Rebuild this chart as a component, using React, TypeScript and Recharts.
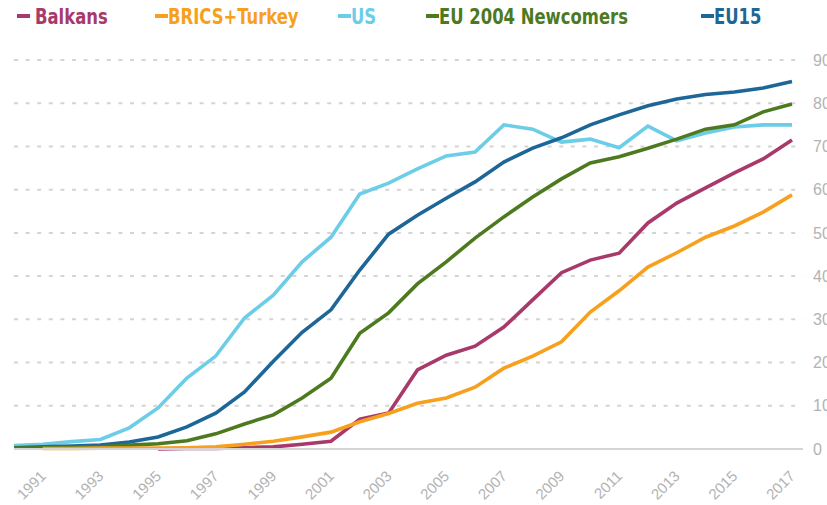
import React from "react";
import { LineChart, Line, XAxis, YAxis, CartesianGrid } from "recharts";

const years = [
  1990, 1991, 1992, 1993, 1994, 1995, 1996, 1997, 1998, 1999, 2000, 2001, 2002, 2003,
  2004, 2005, 2006, 2007, 2008, 2009, 2010, 2011, 2012, 2013, 2014, 2015, 2016, 2017,
];

const balkans = [
  null, null, null, null, null, 0, 0.1, 0.1, 0.3, 0.5, 1.1, 1.8, 6.9, 8.3,
  18.3, 21.7, 23.8, 28.2, 34.5, 40.8, 43.7, 45.3, 52.3, 56.9, 60.4, 63.9, 67.1, 71.5,
];
const brics = [
  null, 0.1, 0.1, 0.2, 0.2, 0.2, 0.3, 0.5, 1.1, 1.8, 2.8, 3.9, 6.3, 8.2,
  10.6, 11.8, 14.3, 18.7, 21.5, 24.8, 31.7, 36.6, 42.1, 45.4, 49.0, 51.6, 54.8, 58.8,
];
const us = [
  0.8, 1.1, 1.7, 2.2, 4.9, 9.5, 16.4, 21.5, 30.3, 35.6, 43.3, 49.0, 59.0, 61.5,
  64.8, 67.8, 68.7, 75.0, 74.0, 71.0, 71.7, 69.7, 74.7, 71.3, 73.1, 74.5, 75.0, 75.0,
];
const eu2004 = [
  0.2, 0.3, 0.4, 0.5, 0.9, 1.2, 1.9, 3.5, 5.8, 7.9, 11.8, 16.4, 26.8, 31.5,
  38.2, 43.3, 48.8, 53.7, 58.3, 62.5, 66.2, 67.6, 69.6, 71.7, 74.0, 75.0, 78.0, 79.8,
];
const eu15 = [
  0.3, 0.5, 0.7, 0.9, 1.6, 2.8, 5.1, 8.3, 13.2, 20.3, 27.0, 32.2, 41.4, 49.7,
  54.1, 58.0, 61.8, 66.4, 69.6, 72.0, 75.0, 77.3, 79.4, 81.0, 82.0, 82.6, 83.5, 85.0,
];

const xTicks = [1991, 1993, 1995, 1997, 1999, 2001, 2003, 2005, 2007, 2009, 2011, 2013, 2015, 2017];
const yTicks = [0, 10, 20, 30, 40, 50, 60, 70, 80, 90];

const series = [
  { key: "us", name: "US", color: "#6ccde8", values: us },
  { key: "eu15", name: "EU15", color: "#1c6797", values: eu15 },
  { key: "eu2004", name: "EU 2004 Newcomers", color: "#4e7a1f", values: eu2004 },
  { key: "balkans", name: "Balkans", color: "#a8396b", values: balkans },
  { key: "brics", name: "BRICS+Turkey", color: "#f7a01d", values: brics },
];

const legendItems = [
  { name: "Balkans", color: "#a8396b", left: 17, gap: 5 },
  { name: "BRICS+Turkey", color: "#f7a01d", left: 155, gap: 0 },
  { name: "US", color: "#6ccde8", left: 338, gap: 0 },
  { name: "EU 2004 Newcomers", color: "#4e7a1f", left: 426, gap: 0 },
  { name: "EU15", color: "#1c6797", left: 701, gap: 0 },
];

const data = years.map((year, i) => {
  const row: Record<string, number | null> = { year };
  series.forEach((s) => {
    row[s.key] = s.values[i];
  });
  return row;
});

const YearTick = (props: any) => {
  const { x, y, payload } = props;
  const ax = x + 4;
  const ay = y + 28;
  return (
    <text
      x={ax}
      y={ay}
      textAnchor="end"
      fill="#b3b3b3"
      fontSize={15}
      fontFamily="'Liberation Sans', Arial, sans-serif"
      transform={`rotate(-45, ${ax}, ${ay})`}
    >
      {payload.value}
    </text>
  );
};

const App: React.FC = () => {
  return (
    <div style={{ position: "absolute", left: 0, top: 0, width: 827, height: 505, background: "#fff", overflow: "hidden" }}>
      {legendItems.map((item) => (
        <div
          key={item.name}
          style={{
            position: "absolute",
            left: item.left,
            top: 2,
            height: 28,
            display: "flex",
            alignItems: "center",
            whiteSpace: "nowrap",
          }}
        >
          <span style={{ display: "inline-block", width: 13, height: 4, background: item.color, marginRight: item.gap }} />
          <span
            style={{
              display: "inline-block",
              transform: "scaleX(0.83)",
              transformOrigin: "left center",
              fontFamily: "'Liberation Sans Narrow', 'DejaVu Sans Condensed', sans-serif",
              fontWeight: "bold",
              fontSize: 22,
              color: item.color,
            }}
          >
            {item.name}
          </span>
        </div>
      ))}
      <LineChart width={827} height={505} data={data} margin={{ top: 60, right: 0, bottom: 0, left: 14 }}>
        <CartesianGrid vertical={false} stroke="#d4d4d4" strokeWidth={2} strokeDasharray="4 7.6" />
        <XAxis
          dataKey="year"
          type="number"
          domain={[1990, 2017]}
          ticks={xTicks}
          padding={{ left: 0, right: 11 }}
          height={56}
          tickLine={false}
          tickSize={0}
          tickMargin={0}
          axisLine={{ stroke: "#d4d4d4", strokeWidth: 2 }}
          tick={<YearTick />}
          interval={0}
        />
        <YAxis
          orientation="right"
          domain={[0, 90]}
          ticks={yTicks}
          width={24}
          axisLine={false}
          tickLine={false}
          tickSize={0}
          tickMargin={10}
          tick={{ fill: "#b3b3b3", fontSize: 16, fontFamily: "'Liberation Sans', Arial, sans-serif", textAnchor: "start" }}
        />
        {series.map((s) => (
          <Line
            key={s.key}
            dataKey={s.key}
            name={s.name}
            type="linear"
            stroke={s.color}
            strokeWidth={3.6}
            dot={false}
            activeDot={false}
            isAnimationActive={false}
          />
        ))}
      </LineChart>
    </div>
  );
};

export default App;
